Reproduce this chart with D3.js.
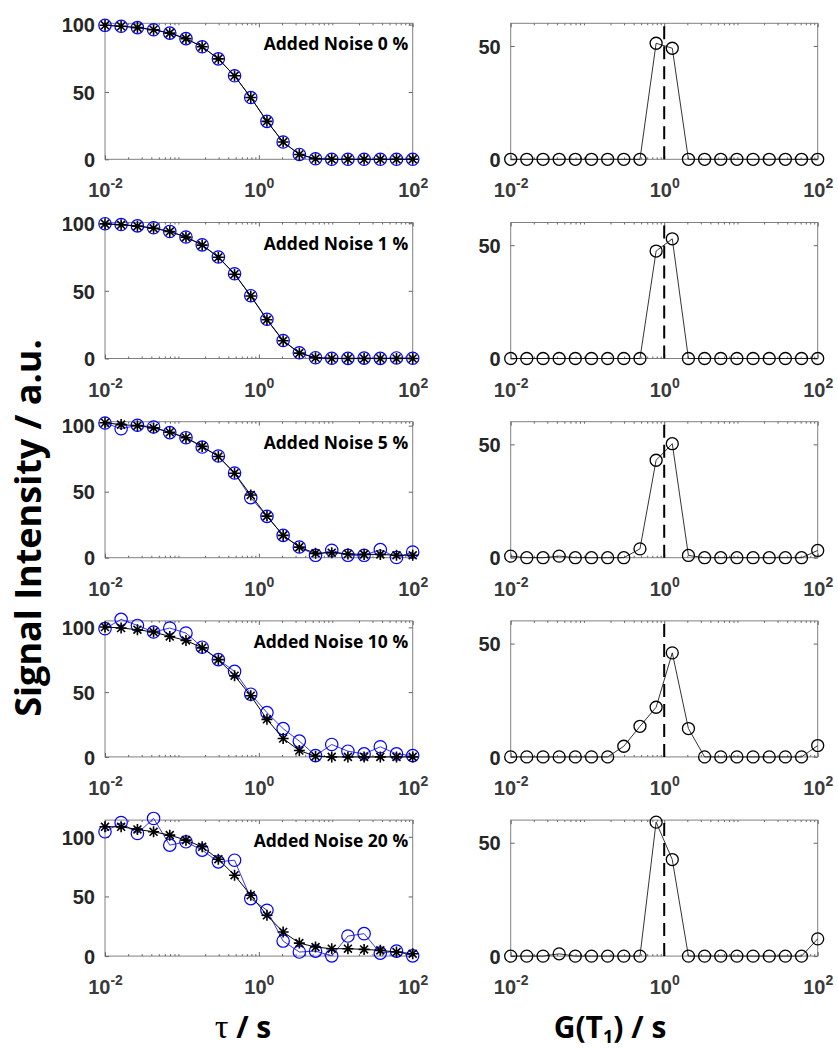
<!DOCTYPE html>
<html lang='en'>
<head>
<meta charset='utf-8'>
<title>T1 inversion with added noise</title>
<script src="https://cdn.jsdelivr.net/npm/d3@7"></script>
<style>
  body { margin: 0; background: #fff; }
  svg { display: block; }
  .tick text { font-family: 'Liberation Sans', Arial, sans-serif; font-weight: bold; fill: #262626; }
</style>
</head>
<body>
<script>
// sampling grid (20 log-spaced points, 1e-2 .. 1e2)
var tau = [0.01, 0.0162, 0.0264, 0.0428, 0.0695, 0.1129, 0.1833, 0.2976, 0.4833, 0.7848,
           1.2743, 2.0691, 3.3598, 5.4556, 8.8587, 14.384, 23.357, 37.927, 61.585, 100];
var t1 = [0.01, 0.0162, 0.0264, 0.0428, 0.0695, 0.1129, 0.1833, 0.2976, 0.4833, 0.7848,
          1.2743, 2.0691, 3.3598, 5.4556, 8.8587, 14.384, 23.357, 37.927, 61.585, 100];

var noiseLevels = [0, 1, 5, 10, 20];

// blue circles: signal with noise
var measured0  = [99.5, 98.8, 97.8, 96.2, 93.7, 89.6, 83.6, 74.6, 62.0, 45.9, 28.2, 12.8, 3.6, 0.4, 0, 0, 0, 0, 0, 0];
var measured1  = [99.6, 99.0, 98.0, 96.6, 93.9, 89.8, 84.0, 75.0, 62.6, 46.4, 29.0, 13.3, 4.2, 0.6, 0.2, 0.1, 0.3, 0.1, 0.4, 0.2];
var measured5  = [102.0, 97.7, 100.3, 99.0, 94.7, 90.9, 83.8, 77.0, 64.1, 45.5, 31.3, 16.9, 8.1, 1.8, 5.6, 1.8, 1.8, 6.1, 0.2, 4.3];
var measured10 = [99.0, 106.2, 101.5, 96.4, 99.5, 95.6, 84.7, 75.1, 66.0, 48.4, 34.2, 21.8, 12.2, 1.0, 9.6, 4.4, 2.3, 7.8, 2.3, 1.0];
var measured20 = [104.2, 112.0, 102.8, 115.4, 93.0, 95.8, 88.8, 79.0, 80.4, 48.2, 38.4, 12.6, 3.4, 4.2, 0.2, 16.8, 18.8, 2.5, 4.2, 0.2];

// black asterisks: back-calculated fit
var fitted0  = [99.5, 98.8, 97.8, 96.2, 93.7, 89.6, 83.6, 74.6, 62.0, 45.9, 28.2, 12.8, 3.6, 0.4, 0, 0, 0, 0, 0, 0];
var fitted1  = [99.5, 98.8, 97.8, 96.2, 93.8, 89.7, 83.8, 74.8, 62.3, 46.2, 28.6, 13.1, 4.0, 0.5, 0, 0, 0, 0, 0, 0];
var fitted5  = [102.2, 100.8, 100.0, 98.3, 95.0, 90.9, 84.3, 76.6, 64.0, 47.5, 31.5, 16.9, 8.0, 3.3, 3.8, 2.8, 2.5, 2.5, 1.8, 1.8];
var fitted10 = [100.3, 99.5, 98.2, 96.4, 93.0, 89.9, 84.2, 75.1, 62.7, 47.2, 29.0, 14.2, 4.9, 0.5, 0, 0, 0, 0, 0, 0];
var fitted20 = [108.4, 108.4, 106.2, 104.2, 101.4, 97.2, 91.6, 81.2, 67.8, 51.0, 34.2, 20.2, 10.9, 7.6, 6.2, 6.2, 5.6, 4.8, 3.4, 2.0];

// right column: recovered distribution G(T1)
var dist0  = [0, 0, 0, 0, 0, 0, 0, 0, 0, 51.2, 49.0, 0, 0, 0, 0, 0, 0, 0, 0, 0];
var dist1  = [0, 0, 0, 0, 0, 0, 0, 0, 0, 47.4, 52.8, 0, 0, 0, 0, 0, 0, 0, 0, 0];
var dist5  = [0.7, 0, 0, 0.7, 0, 0, 0, 0, 3.9, 43.0, 50.3, 1.0, 0, 0, 0, 0, 0, 0, 0, 3.2];
var dist10 = [0, 0, 0, 0, 0, 0, 0, 4.7, 13.5, 21.9, 45.9, 12.5, 0, 0, 0, 0, 0, 0, 0, 5.0];
var dist20 = [0, 0, 0, 1.0, 0, 0, 0, 0, 0, 59.1, 42.6, 0, 0, 0, 0, 0, 0, 0, 0, 7.6];

var trueT1 = 1;

var leftYMax = [101, 100.5, 103, 105, 114];
var rightYMax = 60;
var leftYTicks = [0, 50, 100];
var rightYTicks = [0, 50];
var xMajorTicks = [0.01, 1, 100];
var xExponents = ['-2', '0', '2'];

var measured = [measured0, measured1, measured5, measured10, measured20];
var fitted = [fitted0, fitted1, fitted5, fitted10, fitted20];
var dists = [dist0, dist1, dist5, dist10, dist20];

// layout
var W = 838, H = 1050;
var leftX = [105, 412.7], rightX = [510.7, 817.7];
var top0 = 23.3, step = 199.2, ph = 136;

var minorTicks = [];
[-2, -1, 0, 1].forEach(function(k) {
    for (var m = 2; m <= 9; m++) minorTicks.push(m * Math.pow(10, k));
});

var svg = d3.select('body').append('svg')
    .attr('width', W)
    .attr('height', H);

// MATLAB style '*' marker
var asterisk = {
    draw: function(ctx, size) {
        var r = Math.sqrt(size) / 2, d = r * 0.72;
        ctx.moveTo(-r, 0); ctx.lineTo(r, 0);
        ctx.moveTo(0, -r); ctx.lineTo(0, r);
        ctx.moveTo(-d, -d); ctx.lineTo(d, d);
        ctx.moveTo(-d, d); ctx.lineTo(d, -d);
    }
};

function drawFrame(g, x, y, yTicks) {
    var x0 = x.range()[0], x1 = x.range()[1];
    var y0 = y.range()[0], y1 = y.range()[1];

    g.append('rect')
        .attr('x', x0).attr('y', y1)
        .attr('width', x1 - x0).attr('height', y0 - y1)
        .attr('fill', 'none')
        .attr('stroke', '#808080')
        .attr('stroke-width', 1);

    // major + minor x ticks, bottom and top, pointing inward
    var bottom = g.append('g').attr('transform', 'translate(0,' + y0 + ')')
        .call(d3.axisBottom(x).tickValues(xMajorTicks).tickSizeInner(-4).tickSizeOuter(0).tickPadding(0));
    g.append('g').attr('transform', 'translate(0,' + y0 + ')')
        .call(d3.axisBottom(x).tickValues(minorTicks).tickSizeInner(-2).tickSizeOuter(0).tickFormat(''));
    g.append('g').attr('transform', 'translate(0,' + y1 + ')')
        .call(d3.axisTop(x).tickValues(xMajorTicks).tickSizeInner(-4).tickSizeOuter(0).tickFormat(''));
    g.append('g').attr('transform', 'translate(0,' + y1 + ')')
        .call(d3.axisTop(x).tickValues(minorTicks).tickSizeInner(-2).tickSizeOuter(0).tickFormat(''));

    bottom.selectAll('.tick text').each(function(d, i) {
        var t = d3.select(this).text(null)
            .attr('y', 38).attr('dy', null)
            .attr('font-size', 20)
            .style('fill', '#3a3a3a');
        t.append('tspan').text('10');
        t.append('tspan').attr('dy', -9).attr('font-size', 14).text(xExponents[i]);
    });

    g.append('g').attr('transform', 'translate(' + x0 + ',0)')
        .call(d3.axisLeft(y).tickValues(yTicks).tickSizeInner(-4).tickSizeOuter(0).tickPadding(10))
        .selectAll('.tick text').attr('font-size', 20).attr('dy', '0.36em');
    g.append('g').attr('transform', 'translate(' + x1 + ',0)')
        .call(d3.axisRight(y).tickValues(yTicks).tickSizeInner(-4).tickSizeOuter(0).tickFormat(''));

    g.selectAll('.domain').remove();
    g.selectAll('.tick line').attr('stroke', '#666').attr('stroke-width', 1);
}

noiseLevels.forEach(function(noise, i) {
    var top = top0 + i * step, bottom = top + ph;

    // left: decay curves
    var xl = d3.scaleLog().domain([0.01, 100]).range(leftX);
    var yl = d3.scaleLinear().domain([0, leftYMax[i]]).range([bottom, top]);
    var gl = svg.append('g');
    drawFrame(gl, xl, yl, leftYTicks);

    var lineL = d3.line()
        .x(function(d, j) { return xl(tau[j]); })
        .y(function(d) { return yl(d); });

    gl.append('path').datum(measured[i])
        .attr('d', lineL).attr('fill', 'none')
        .attr('stroke', '#0000ff').attr('stroke-width', 0.8);
    gl.selectAll('circle.meas').data(measured[i]).enter().append('circle')
        .attr('class', 'meas')
        .attr('cx', function(d, j) { return xl(tau[j]); })
        .attr('cy', function(d) { return yl(d); })
        .attr('r', 6.2)
        .attr('fill', 'none')
        .attr('stroke', '#0000ff').attr('stroke-width', 1.2);

    gl.append('path').datum(fitted[i])
        .attr('d', lineL).attr('fill', 'none')
        .attr('stroke', '#000').attr('stroke-width', 1);
    gl.selectAll('path.fit').data(fitted[i]).enter().append('path')
        .attr('class', 'fit')
        .attr('transform', function(d, j) { return 'translate(' + xl(tau[j]) + ',' + yl(d) + ')'; })
        .attr('d', d3.symbol().type(asterisk).size(121))
        .attr('fill', 'none')
        .attr('stroke', '#000').attr('stroke-width', 1.6);

    gl.append('text')
        .attr('x', leftX[1] - 4.5)
        .attr('y', top + 27)
        .attr('text-anchor', 'end')
        .attr('font-family', "'Open Sans', sans-serif")
        .attr('font-weight', 'bold')
        .attr('font-size', 17.5)
        .attr('fill', '#000')
        .text('Added Noise ' + noise + ' %');

    // right: distributions
    var xr = d3.scaleLog().domain([0.01, 100]).range(rightX);
    var yr = d3.scaleLinear().domain([0, rightYMax]).range([bottom, top]);
    var gr = svg.append('g');
    drawFrame(gr, xr, yr, rightYTicks);

    gr.append('line')
        .attr('x1', xr(trueT1)).attr('x2', xr(trueT1))
        .attr('y1', yr(0)).attr('y2', yr(rightYMax))
        .attr('stroke', '#000').attr('stroke-width', 2)
        .attr('stroke-dasharray', '13,7');

    gr.append('path').datum(dists[i])
        .attr('d', d3.line()
            .x(function(d, j) { return xr(t1[j]); })
            .y(function(d) { return yr(d); }))
        .attr('fill', 'none')
        .attr('stroke', '#000').attr('stroke-width', 0.8);
    gr.selectAll('circle.dist').data(dists[i]).enter().append('circle')
        .attr('class', 'dist')
        .attr('cx', function(d, j) { return xr(t1[j]); })
        .attr('cy', function(d) { return yr(d); })
        .attr('r', 6)
        .attr('fill', 'none')
        .attr('stroke', '#000').attr('stroke-width', 1.3);
});

// axis titles
svg.append('text')
    .attr('transform', 'translate(41,528) rotate(-90)')
    .attr('text-anchor', 'middle')
    .attr('font-family', "'Open Sans', sans-serif")
    .attr('font-weight', 'bold')
    .attr('font-size', 36)
    .attr('fill', '#000')
    .text('Signal Intensity / a.u.');

var tauTitle = svg.append('text')
    .attr('x', 243).attr('y', 1038)
    .attr('text-anchor', 'middle')
    .attr('font-family', "'Open Sans', sans-serif")
    .attr('font-weight', 'bold')
    .attr('font-size', 30)
    .attr('fill', '#000');
tauTitle.append('tspan')
    .attr('font-family', "'Liberation Serif', serif")
    .attr('font-weight', 'normal')
    .attr('font-size', 34)
    .text('\u03c4');
tauTitle.append('tspan').text(' / s');

var gTitle = svg.append('text')
    .attr('x', 610).attr('y', 1038)
    .attr('text-anchor', 'middle')
    .attr('font-family', "'Open Sans', sans-serif")
    .attr('font-weight', 'bold')
    .attr('font-size', 30)
    .attr('fill', '#000');
gTitle.append('tspan').text('G(T');
gTitle.append('tspan').attr('font-size', 18).attr('dy', 5).text('1');
gTitle.append('tspan').attr('dy', -5).text(') / s');
</script>
</body>
</html>
